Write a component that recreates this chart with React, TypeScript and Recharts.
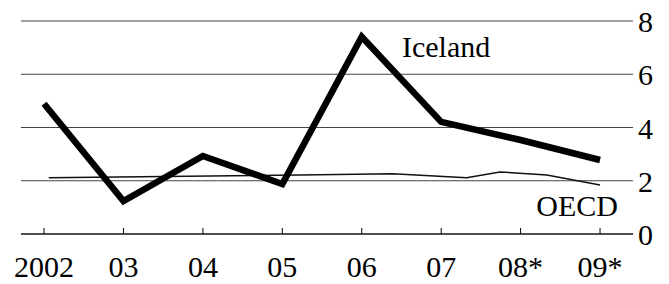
import { CartesianGrid, Customized, Line, LineChart, XAxis, YAxis } from "recharts";

const years = [2002, 2003, 2004, 2005, 2006, 2007, 2008, 2009];
const yearLabels = ["2002", "03", "04", "05", "06", "07", "08*", "09*"];
const iceland = [4.89, 1.24, 2.93, 1.88, 7.41, 4.21, 3.53, 2.78];

// OECD line has kinks between the yearly ticks, read at those positions
const oecdYears = [2002.06, 2005.22, 2006.39, 2007.32, 2007.74, 2008.33, 2009.0];
const oecd = [2.11, 2.22, 2.26, 2.11, 2.33, 2.22, 1.84];

const yTicks = [0, 2, 4, 6, 8];

const icelandData = years.map((year, i) => ({ year, value: iceland[i] }));
const oecdData = oecdYears.map((year, i) => ({ year, value: oecd[i] }));

const FONT = '"Liberation Serif", Tinos, "Times New Roman", "DejaVu Serif", "Noto Serif", serif';
const textStyle = { fontFamily: FONT, fontSize: 30 };

const XTick = (props: any) => {
  const { x, y, payload } = props;
  const idx = years.indexOf(payload.value);
  return (
    <g>
      <line x1={x} x2={x} y1={y} y2={y - 6} stroke="#000" strokeWidth={1} />
      <text x={x} y={y + 43} textAnchor="middle" style={textStyle} fill="#000">
        {idx >= 0 ? yearLabels[idx] : payload.value}
      </text>
    </g>
  );
};

const YTick = (props: any) => {
  const { x, y, payload } = props;
  return (
    <text x={x} y={y + 11} textAnchor="start" style={textStyle} fill="#000">
      {payload.value}
    </text>
  );
};

const SeriesLabels = () => (
  <g fill="#000">
    <text x={402} y={57} style={textStyle}>Iceland</text>
    <text x={618} y={216} textAnchor="end" style={textStyle}>OECD</text>
  </g>
);

const App = () => {
  return (
    <div style={{ position: "absolute", left: 0, top: 0, background: "#fff", fontFamily: FONT }}>
      <LineChart width={669} height={284} margin={{ top: 21, right: 0, bottom: 0, left: 21 }}>
        <CartesianGrid vertical={false} stroke="#444" strokeWidth={1.2} />
        <XAxis
          dataKey="year"
          type="number"
          domain={[2001.71, 2009.415]}
          ticks={years}
          allowDataOverflow
          height={50}
          tickSize={0}
          tickMargin={0}
          tickLine={false}
          axisLine={{ stroke: "#000", strokeWidth: 1.2 }}
          tick={<XTick />}
          interval={0}
        />
        <YAxis
          orientation="right"
          domain={[0, 8]}
          ticks={yTicks}
          width={36}
          tickSize={0}
          tickMargin={5}
          tickLine={false}
          axisLine={false}
          tick={<YTick />}
        />
        <Line
          data={oecdData}
          dataKey="value"
          type="linear"
          stroke="#111"
          strokeWidth={1.5}
          dot={false}
          isAnimationActive={false}
        />
        <Line
          data={icelandData}
          dataKey="value"
          type="linear"
          stroke="#000"
          strokeWidth={6.5}
          strokeLinejoin="miter"
          dot={false}
          isAnimationActive={false}
        />
        <Customized component={SeriesLabels} />
      </LineChart>
    </div>
  );
};

export default App;
